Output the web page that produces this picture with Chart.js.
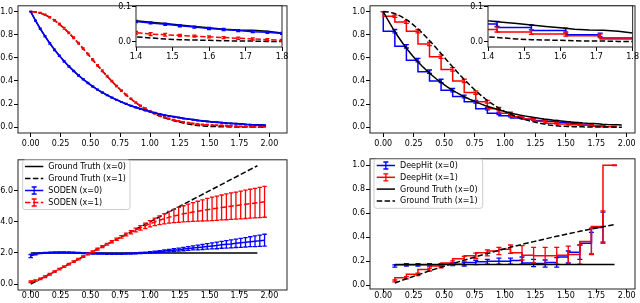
<!DOCTYPE html>
<html><head><meta charset="utf-8">
<script src="https://cdn.jsdelivr.net/npm/chart.js@4.4.1/dist/chart.umd.min.js"></script>
<style>
html,body{margin:0;padding:0;background:#fff;}
#wrap{position:relative;width:640px;height:303px;overflow:hidden;background:#fff;}
canvas{position:absolute;}
</style></head><body>
<div id="wrap">
<canvas id="tl"></canvas><canvas id="tr"></canvas><canvas id="bl"></canvas><canvas id="br"></canvas><canvas id="tli"></canvas><canvas id="tri"></canvas>
</div>
<script>
// ---------- DATA ----------
const sodenT = [0,0.04,0.08,0.12,0.16,0.2,0.24,0.28,0.32,0.36,0.4,0.44,0.48,0.52,0.56,0.6,0.64,0.68,0.72,0.76,0.8,0.84,0.88,0.92,0.96,1.0,1.04,1.08,1.12,1.16,1.2,1.24,1.28,1.32,1.36,1.4,1.44,1.48,1.52,1.56,1.6,1.64,1.68,1.72,1.76,1.8,1.84,1.88,1.92,1.96];
const truthSurv0 = [1.000,0.923,0.852,0.787,0.726,0.670,0.619,0.571,0.527,0.487,0.449,0.415,0.383,0.353,0.326,0.301,0.278,0.257,0.237,0.219,0.202,0.186,0.172,0.159,0.147,0.135,0.125,0.115,0.106,0.098,0.091,0.084,0.077,0.071,0.066,0.060,0.056,0.052,0.048,0.044,0.040,0.036,0.034,0.033,0.030,0.025,0.023,0.022,0.021,0.020];
const truthSurv1 = [1.000,0.997,0.987,0.972,0.950,0.923,0.891,0.855,0.815,0.772,0.726,0.679,0.631,0.582,0.534,0.487,0.441,0.397,0.355,0.315,0.278,0.244,0.212,0.184,0.158,0.135,0.115,0.097,0.081,0.068,0.056,0.046,0.037,0.028,0.020,0.014,0.011,0.008,0.006,0.005,0.004,0.003,0.002,0.002,0.001,0.001,0.001,0.001,0.0005,0.0005];
const sodenSurv0 = [1.000,0.922,0.851,0.786,0.725,0.669,0.618,0.570,0.526,0.486,0.448,0.414,0.382,0.352,0.325,0.300,0.277,0.256,0.236,0.218,0.201,0.185,0.171,0.158,0.146,0.135,0.124,0.114,0.105,0.097,0.090,0.083,0.076,0.070,0.064,0.058,0.054,0.050,0.046,0.042,0.038,0.035,0.032,0.029,0.027,0.024,0.022,0.020,0.018,0.016];
const sodenSurv0Err = [0.002,0.004,0.005,0.005,0.006,0.006,0.006,0.006,0.006,0.006,0.006,0.005,0.005,0.005,0.005,0.005,0.004,0.004,0.004,0.004,0.004,0.004,0.004,0.004,0.004,0.004,0.004,0.004,0.004,0.004,0.003,0.003,0.003,0.003,0.003,0.003,0.003,0.003,0.003,0.003,0.003,0.003,0.003,0.003,0.003,0.003,0.003,0.003,0.003,0.003];
const sodenSurv1 = [1.000,0.997,0.988,0.973,0.951,0.924,0.892,0.856,0.816,0.773,0.727,0.680,0.632,0.583,0.535,0.488,0.442,0.398,0.356,0.317,0.280,0.246,0.214,0.186,0.161,0.138,0.119,0.102,0.087,0.074,0.063,0.053,0.045,0.038,0.031,0.026,0.022,0.020,0.018,0.016,0.014,0.012,0.010,0.008,0.006,0.004,0.004,0.003,0.003,0.003];
const sodenSurv1Err = [0.002,0.003,0.004,0.005,0.006,0.006,0.007,0.007,0.007,0.007,0.007,0.007,0.007,0.007,0.007,0.007,0.007,0.006,0.006,0.006,0.006,0.006,0.006,0.005,0.005,0.005,0.005,0.005,0.005,0.005,0.004,0.004,0.004,0.004,0.004,0.004,0.004,0.004,0.003,0.003,0.003,0.003,0.003,0.003,0.003,0.003,0.003,0.003,0.003,0.003];
const sodenHaz0 = [1.80,1.93,1.98,2.00,2.02,2.03,2.04,2.04,2.03,2.02,2.00,1.98,1.97,1.96,1.95,1.95,1.94,1.94,1.94,1.94,1.95,1.96,1.97,1.99,2.01,2.03,2.06,2.09,2.12,2.15,2.18,2.21,2.25,2.28,2.32,2.35,2.38,2.42,2.45,2.48,2.52,2.55,2.58,2.62,2.65,2.68,2.72,2.75,2.78,2.82];
const sodenHaz0Err = [0.10,0.05,0.03,0.03,0.03,0.03,0.03,0.03,0.03,0.03,0.03,0.03,0.03,0.03,0.03,0.03,0.03,0.03,0.03,0.03,0.03,0.03,0.03,0.04,0.04,0.05,0.05,0.06,0.07,0.08,0.09,0.10,0.11,0.12,0.13,0.15,0.16,0.18,0.19,0.21,0.22,0.24,0.26,0.27,0.29,0.30,0.32,0.34,0.36,0.38];
const sodenHaz1 = [0.15,0.22,0.33,0.47,0.63,0.80,0.96,1.12,1.28,1.44,1.60,1.76,1.92,2.08,2.24,2.40,2.56,2.72,2.88,3.03,3.18,3.33,3.47,3.61,3.74,3.87,3.99,4.10,4.20,4.29,4.37,4.44,4.51,4.57,4.63,4.68,4.73,4.78,4.83,4.87,4.92,4.96,5.00,5.04,5.08,5.12,5.16,5.20,5.24,5.28];
const sodenHaz1Err = [0.05,0.05,0.05,0.05,0.05,0.05,0.05,0.05,0.05,0.05,0.05,0.05,0.05,0.05,0.06,0.06,0.06,0.07,0.07,0.08,0.09,0.10,0.12,0.14,0.17,0.20,0.24,0.28,0.33,0.38,0.43,0.48,0.52,0.56,0.60,0.64,0.68,0.72,0.75,0.78,0.80,0.83,0.85,0.87,0.89,0.91,0.93,0.95,0.97,0.99];
const truthHazT = [0, 1.9];
const truthHaz0 = [2.0, 2.0];
const truthHaz1 = [0.0, 7.6];

const deepT = [0,0.095,0.19,0.285,0.38,0.475,0.57,0.665,0.76,0.855,0.95,1.045,1.14,1.235,1.33,1.425,1.52,1.615,1.71,1.805,1.9];
const deepSurv0 = [1.0,0.83,0.70,0.58,0.48,0.40,0.32,0.265,0.22,0.16,0.12,0.10,0.08,0.068,0.058,0.051,0.041,0.032,0.020,0.011];
const deepSurv0Err = [0.0,0.015,0.015,0.015,0.015,0.015,0.015,0.012,0.012,0.01,0.01,0.01,0.008,0.008,0.008,0.007,0.007,0.007,0.005,0.004];
const deepSurv1 = [1.0,0.96,0.91,0.83,0.72,0.61,0.50,0.40,0.30,0.22,0.16,0.12,0.09,0.07,0.052,0.035,0.028,0.022,0.017,0.008,0.004];
const deepSurv1Err = [0.0,0.01,0.012,0.015,0.015,0.015,0.015,0.015,0.015,0.012,0.012,0.01,0.01,0.008,0.008,0.007,0.007,0.006,0.005,0.004,0.003];
const deepHazT = [0.095,0.19,0.285,0.38,0.475,0.57,0.665,0.76,0.855,0.95,1.045,1.14,1.235,1.33,1.425,1.52,1.615,1.71,1.805,1.9];
const deepHaz0 = [0.16,0.17,0.17,0.17,0.17,0.175,0.175,0.19,0.195,0.20,0.20,0.205,0.185,0.18,0.19,0.235,0.275,0.35,0.48];
const deepHaz0Err = [0.01,0.01,0.01,0.01,0.01,0.012,0.015,0.018,0.02,0.025,0.025,0.03,0.03,0.03,0.04,0.05,0.06,0.09,0.13];
const deepHaz1 = [0.035,0.062,0.09,0.13,0.16,0.185,0.22,0.245,0.27,0.285,0.30,0.27,0.25,0.245,0.245,0.25,0.255,0.365,0.49,1.0];
const deepHaz1Err = [0.008,0.01,0.01,0.012,0.015,0.018,0.02,0.022,0.025,0.03,0.035,0.06,0.065,0.07,0.07,0.075,0.08,0.11,0.13,0.003];
const truthDeepHaz0T = [0.095, 1.9];
const truthDeepHaz0 = [0.173, 0.173];
const truthDeepHaz1 = [0.018,0.053,0.086,0.119,0.150,0.180,0.209,0.237,0.264,0.290,0.316,0.340,0.363,0.386,0.408,0.429,0.449,0.468,0.487,0.505];

const mainXTicks = [0,0.25,0.5,0.75,1.0,1.25,1.5,1.75,2.0];
const mainXLabels = ['0.00','0.25','0.50','0.75','1.00','1.25','1.50','1.75','2.00'];
const probYTicks = [0,0.2,0.4,0.6,0.8,1.0];
const probYLabels = ['0.0','0.2','0.4','0.6','0.8','1.0'];
const hazYTicks = [0,2,4,6];
const hazYLabels = ['0.0','2.0','4.0','6.0'];
const insetXTicks = [1.4,1.5,1.6,1.7,1.8];
const insetXLabels = ['1.4','1.5','1.6','1.7','1.8'];
const insetYTicks = [0,0.1];
const insetYLabels = ['0.0','0.1'];
const sodenLegendLabels = ['Ground Truth (x=0)','Ground Truth (x=1)','SODEN (x=0)','SODEN (x=1)'];
const deepLegendLabels = ['DeepHit (x=0)','DeepHit (x=1)','Ground Truth (x=0)','Ground Truth (x=1)'];

// ---------- STYLE / HELPERS ----------
const FONT = {family:'DejaVu Sans', size:8};
const BLUE='#0000ff', RED='#ff0000', BLACK='#000000';
const DASH=[5.5,2.4];
function pts(xs, ys){ return ys.map((y,i)=>({x:xs[i], y:y})); }

const framePlugin = {
  id:'frame',
  beforeDatasetsDraw(chart){ const a=chart.chartArea, c=chart.ctx; c.save(); c.fillStyle='#fff'; c.fillRect(a.left,a.top,a.right-a.left,a.bottom-a.top); c.restore(); },
  afterDraw(chart){ const a=chart.chartArea, c=chart.ctx; c.save(); c.strokeStyle='#222'; c.lineWidth=1; c.setLineDash([]); c.strokeRect(a.left,a.top,a.right-a.left,a.bottom-a.top); c.restore(); }
};
const errPlugin = {
  id:'errbars',
  afterDatasetDraw(chart, args){
    const ds = chart.data.datasets[args.index];
    if(!ds.errors) return;
    const c=chart.ctx, a=chart.chartArea, xs=chart.scales.x, ys=chart.scales.y;
    c.save(); c.beginPath(); c.rect(a.left,a.top,a.right-a.left,a.bottom-a.top); c.clip();
    c.strokeStyle=ds.borderColor; c.lineWidth=ds.errWidth||1.3; c.setLineDash([]);
    const cap=ds.cap||2;
    c.beginPath();
    ds.data.forEach((p,i)=>{ const e=ds.errors[i]; if(e==null) return;
      const px=xs.getPixelForValue(p.x), y1=ys.getPixelForValue(p.y-e), y2=ys.getPixelForValue(p.y+e);
      c.moveTo(px,y1); c.lineTo(px,y2);
      c.moveTo(px-cap,y1); c.lineTo(px+cap,y1); c.moveTo(px-cap,y2); c.lineTo(px+cap,y2);
    });
    c.stroke(); c.restore();
  }
};
const legendPlugin = {
  id:'mlegend',
  afterDraw(chart, args, o){
    if(!o || !o.items) return;
    const c=chart.ctx; c.save(); c.translate(-o.ox,-o.oy);
    const x0=o.box[0], y0=o.box[1], w=o.box[2]-o.box[0], h=o.box[3]-o.box[1], r=2.5;
    c.beginPath();
    c.moveTo(x0+r,y0); c.lineTo(x0+w-r,y0); c.arcTo(x0+w,y0,x0+w,y0+r,r); c.lineTo(x0+w,y0+h-r); c.arcTo(x0+w,y0+h,x0+w-r,y0+h,r);
    c.lineTo(x0+r,y0+h); c.arcTo(x0,y0+h,x0,y0+h-r,r); c.lineTo(x0,y0+r); c.arcTo(x0,y0,x0+r,y0,r); c.closePath();
    c.fillStyle='rgba(255,255,255,0.8)'; c.fill(); c.strokeStyle='#cccccc'; c.lineWidth=1; c.stroke();
    o.items.forEach((it,i)=>{
      const y=o.rows[i];
      c.strokeStyle=it.color; c.lineWidth=1.5; c.setLineDash(it.dash||[]);
      c.beginPath(); c.moveTo(o.hx[0],y); c.lineTo(o.hx[1],y); c.stroke(); c.setLineDash([]);
      if(it.err){ const m=(o.hx[0]+o.hx[1])/2; c.lineWidth=1.3; c.beginPath();
        c.moveTo(m,y-3.5); c.lineTo(m,y+3.5); c.moveTo(m-2.5,y-3.5); c.lineTo(m+2.5,y-3.5); c.moveTo(m-2.5,y+3.5); c.lineTo(m+2.5,y+3.5); c.stroke(); }
      c.fillStyle='#000'; c.font='8px "DejaVu Sans"'; c.textBaseline='middle'; c.textAlign='left';
      c.fillText(it.label, o.tx, y+0.5);
    });
    c.restore();
  }
};

function panel(id, g, xr, yr, xt, xl, yt, yl, datasets, legend){
  const cv=document.getElementById(id);
  const left=g.l-g.yw, top=g.t-g.pt, w=g.yw+(g.r-g.l)+g.pr, h=g.pt+(g.b-g.t)+g.xh;
  cv.width=w; cv.height=h; cv.style.left=left+'px'; cv.style.top=top+'px'; cv.style.width=w+'px'; cv.style.height=h+'px';
  const axis=(min,max,ticks,labels,isX,pad)=>({
    type:'linear', min:min, max:max,
    afterBuildTicks:s=>{ s.ticks=ticks.map(v=>({value:v})); },
    afterFit:s=>{ if(isX) s.height=g.xh; else s.width=g.yw; },
    ticks:{font:FONT, color:'#000', padding:pad, autoSkip:false, maxRotation:0, minRotation:0, callback:(v,i)=>labels[i]},
    grid:{display:true, drawOnChartArea:false, drawTicks:true, tickLength:4, color:'#000', tickColor:'#000', lineWidth:1},
    border:{display:false}
  });
  datasets.forEach(d=>{ d.pointRadius=0; d.pointHoverRadius=0; d.fill=false; d.tension=0; d.clip=0; if(d.borderWidth==null) d.borderWidth=1.5; });
  return new Chart(cv, {
    type:'line',
    data:{datasets:datasets},
    options:{
      responsive:false, animation:false, devicePixelRatio:1, events:[],
      layout:{padding:{left:0, top:g.pt, right:g.pr, bottom:0}},
      plugins:{legend:{display:false}, tooltip:{enabled:false}, mlegend: legend ? Object.assign({ox:left, oy:top}, legend) : {}},
      scales:{ x:axis(xr[0],xr[1],xt,xl,true,g.xpad), y:axis(yr[0],yr[1],yt,yl,false,1) }
    },
    plugins:[framePlugin, errPlugin, legendPlugin]
  });
}

function sodenSurvSets(cap){
  return [
    {data:pts(sodenT,sodenSurv0), borderColor:BLUE, errors:sodenSurv0Err, cap:cap},
    {data:pts(sodenT,sodenSurv1), borderColor:RED, borderDash:DASH, errors:sodenSurv1Err, cap:cap},
    {data:pts(sodenT,truthSurv0), borderColor:BLACK},
    {data:pts(sodenT,truthSurv1), borderColor:BLACK, borderDash:DASH}
  ];
}
function deepSurvSets(cap){
  return [
    {data:pts(sodenT,truthSurv0), borderColor:BLACK},
    {data:pts(sodenT,truthSurv1), borderColor:BLACK, borderDash:DASH},
    {data:pts(deepT,deepSurv1), borderColor:RED, stepped:'after', errors:deepSurv1Err, cap:cap},
    {data:pts(deepT,deepSurv0), borderColor:BLUE, stepped:'after', errors:deepSurv0Err, cap:cap}
  ];
}

// ---------- PANELS ----------
panel('tl', {l:18,t:1,r:287,b:133,yw:20,pt:1,pr:13,xh:20,xpad:2}, [-0.1065,2.148], [-0.05,1.05],
  mainXTicks, mainXLabels, probYTicks, probYLabels, sodenSurvSets(1.5));
panel('tr', {l:370,t:1,r:635,b:133,yw:20,pt:1,pr:5,xh:20,xpad:2}, [-0.109,2.068], [-0.05,1.05],
  mainXTicks, mainXLabels, probYTicks, probYLabels, deepSurvSets(2.5));
panel('bl', {l:18,t:156,r:287,b:290,yw:20,pt:2,pr:13,xh:13,xpad:-3}, [-0.1065,2.148], [-0.38,7.98],
  mainXTicks, mainXLabels, hazYTicks, hazYLabels, [
    {data:pts(sodenT,sodenHaz1), borderColor:RED, borderDash:DASH, errors:sodenHaz1Err, cap:2.2},
    {data:pts(sodenT,sodenHaz0), borderColor:BLUE, errors:sodenHaz0Err, cap:2.2},
    {data:pts(truthHazT,truthHaz0), borderColor:BLACK},
    {data:pts(truthHazT,truthHaz1), borderColor:BLACK, borderDash:DASH}
  ], {box:[22.7,160,130,209.5], rows:[166.5,178.5,190.5,202.5], hx:[25,43.3], tx:48.3,
      items:[{label:sodenLegendLabels[0],color:BLACK},{label:sodenLegendLabels[1],color:BLACK,dash:DASH},
             {label:sodenLegendLabels[2],color:BLUE,err:true},{label:sodenLegendLabels[3],color:RED,dash:DASH,err:true}]});
panel('br', {l:370,t:155,r:635,b:289,yw:20,pt:2,pr:5,xh:14,xpad:-2}, [-0.109,2.068], [-0.032,1.054],
  mainXTicks, mainXLabels, probYTicks, probYLabels, [
    {data:pts(truthDeepHaz0T,truthDeepHaz0), borderColor:BLACK},
    {data:pts(deepHazT,truthDeepHaz1), borderColor:BLACK, borderDash:DASH},
    {data:pts(deepHazT,deepHaz1), borderColor:RED, stepped:'after', errors:deepHaz1Err, cap:2.5},
    {data:pts(deepHazT,deepHaz0), borderColor:BLUE, stepped:'after', errors:deepHaz0Err, cap:2.5}
  ], {box:[374,159.3,482.7,208.3], rows:[165.5,177.3,189.1,200.9], hx:[376.7,395], tx:400,
      items:[{label:deepLegendLabels[0],color:BLUE,err:true},{label:deepLegendLabels[1],color:RED,err:true},
             {label:deepLegendLabels[2],color:BLACK},{label:deepLegendLabels[3],color:BLACK,dash:DASH}]});
panel('tli', {l:136,t:5,r:282,b:47,yw:20,pt:5,pr:9,xh:14,xpad:1}, [1.4,1.8], [-0.015,0.103],
  insetXTicks, insetXLabels, insetYTicks, insetYLabels, sodenSurvSets(2));
panel('tri', {l:488,t:5,r:633,b:47,yw:20,pt:5,pr:7,xh:14,xpad:1}, [1.4,1.8], [-0.015,0.103],
  insetXTicks, insetXLabels, insetYTicks, insetYLabels, deepSurvSets(2.5));
</script>
</body></html>
